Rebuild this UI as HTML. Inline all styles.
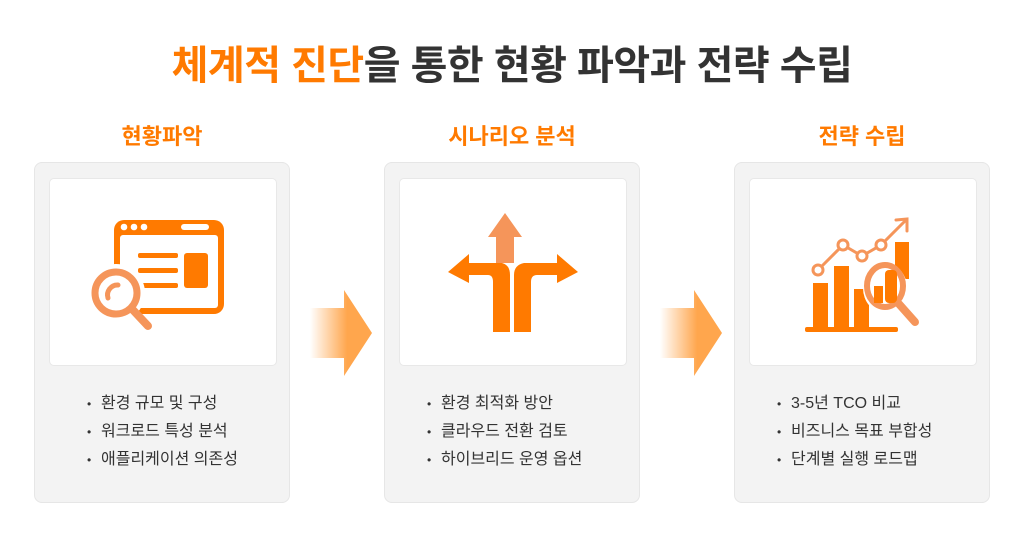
<!DOCTYPE html>
<html><head><meta charset="utf-8"><style>
body{margin:0;width:1024px;height:555px;background:#fff;position:relative;overflow:hidden;font-family:"Liberation Sans","Noto Sans CJK KR",sans-serif}
.t{position:absolute;top:33px;left:0;width:1024px;text-align:center;font-size:40px;font-weight:bold;color:#333;letter-spacing:-0.5px}
.t span{color:#ff7a00}
.h{position:absolute;top:119px;width:256px;text-align:center;font-size:22px;font-weight:bold;color:#ff7a00}
.c{position:absolute;top:162px;width:256px;height:341px;background:#f3f3f3;border:1px solid #e6e6e6;border-radius:8px;box-sizing:border-box}
.in{position:absolute;left:14px;top:15px;width:228px;height:188px;background:#fff;border:1px solid #e8e8e8;border-radius:5px;box-sizing:border-box}
ul{position:absolute;top:229px;margin:0;padding:0;list-style:none;font-size:16px;color:#333}
li{height:28px;line-height:24px}
li:before{content:"•";display:inline-block;width:14px;font-size:12px}
.ar{position:absolute;top:290px;width:62px;height:86px}
</style></head><body>
<div class="t"><span>체계적 진단</span>을 통한 현황 파악과 전략 수립</div>
<div class="h" style="left:34px">현황파악</div>
<div class="h" style="left:384px">시나리오 분석</div>
<div class="h" style="left:734px">전략 수립</div>

<div class="c" style="left:34px"><div class="in">
<svg width="228" height="188" viewBox="0 0 228 188">
<rect x="64" y="41" width="110" height="94" rx="10" fill="#ff7a00"/>
<rect x="70" y="56" width="98" height="73" rx="3" fill="#fff"/>
<circle cx="74" cy="48" r="3.3" fill="#fff"/><circle cx="84" cy="48" r="3.3" fill="#fff"/><circle cx="94" cy="48" r="3.3" fill="#fff"/>
<rect x="131" y="45" width="28" height="6" rx="3" fill="#fff"/>
<rect x="88" y="74" width="40" height="5" rx="2" fill="#ff7a00"/>
<rect x="88" y="89" width="40" height="5" rx="2" fill="#ff7a00"/>
<rect x="88" y="104" width="40" height="5" rx="2" fill="#ff7a00"/>
<rect x="134" y="74" width="24" height="35" rx="3" fill="#ff7a00"/>
<circle cx="66" cy="114" r="29" fill="#fff"/>
<circle cx="66" cy="114" r="21" fill="#fff" stroke="#f5955a" stroke-width="7"/>
<line x1="83" y1="131" x2="98" y2="147" stroke="#f5955a" stroke-width="8" stroke-linecap="round"/>
<path d="M58 119 a10 10 0 0 1 10 -13" fill="none" stroke="#f5955a" stroke-width="5" stroke-linecap="round"/>
</svg></div>
<ul style="left:52px"><li>환경 규모 및 구성</li><li>워크로드 특성 분석</li><li>애플리케이션 의존성</li></ul></div>

<div class="c" style="left:384px"><div class="in">
<svg width="228" height="188" viewBox="0 0 228 188">
<path d="M96 84 L96 58 L88 58 L105 34 L122 58 L114 58 L114 84 Z" fill="#f5955a"/>
<path d="M48 93 L69 75 L69 84 L102 84 Q110 86 110 96 L110 153 L93 153 L93 103 Q93 96 88 96 L69 96 L69 104 Z" fill="#ff7a00"/>
<path d="M178 93 L157 75 L157 84 L124 84 Q114 86 114 96 L114 153 L131 153 L131 103 Q131 96 137 96 L157 96 L157 104 Z" fill="#ff7a00"/>
<line x1="112" y1="92" x2="112" y2="154" stroke="#fff" stroke-width="3"/>
</svg></div>
<ul style="left:42px"><li>환경 최적화 방안</li><li>클라우드 전환 검토</li><li>하이브리드 운영 옵션</li></ul></div>

<div class="c" style="left:734px"><div class="in">
<svg width="228" height="188" viewBox="0 0 228 188">
<rect x="55" y="148" width="93" height="5" rx="2" fill="#ff7a00"/>
<rect x="63" y="104" width="15" height="44" fill="#ff7a00"/>
<rect x="84" y="87" width="15" height="61" fill="#ff7a00"/>
<rect x="104" y="110" width="15" height="38" fill="#ff7a00"/>
<rect x="145" y="63" width="14" height="37" fill="#ff7a00"/>
<polyline points="68,91 93,66 112,77 131,66 156,41" fill="none" stroke="#f5955a" stroke-width="3"/>
<polyline points="146,41 157,40 157,52" fill="none" stroke="#f5955a" stroke-width="3" stroke-linecap="round"/>
<circle cx="68" cy="91" r="5" fill="#fff" stroke="#f5955a" stroke-width="3"/>
<circle cx="93" cy="66" r="5" fill="#fff" stroke="#f5955a" stroke-width="3"/>
<circle cx="112" cy="77" r="5" fill="#fff" stroke="#f5955a" stroke-width="3"/>
<circle cx="131" cy="66" r="5" fill="#fff" stroke="#f5955a" stroke-width="3"/>
<ellipse cx="135" cy="109" rx="22" ry="25" fill="#fff"/>
<ellipse cx="135" cy="107" rx="18" ry="21" fill="#fff" stroke="#f5955a" stroke-width="6"/>
<rect x="124" y="107" width="9" height="17" fill="#ff7a00"/>
<rect x="135" y="91" width="12" height="33" rx="4" fill="#ff7a00"/>
<line x1="149" y1="125" x2="165" y2="143" stroke="#f5955a" stroke-width="8" stroke-linecap="round"/>
</svg></div>
<ul style="left:42px"><li>3-5년 TCO 비교</li><li>비즈니스 목표 부합성</li><li>단계별 실행 로드맵</li></ul></div>

<svg class="ar" style="left:310px" viewBox="0 0 62 86"><defs><linearGradient id="g" x1="0" x2="1"><stop offset="0" stop-color="#ffa64d" stop-opacity="0"/><stop offset="0.6" stop-color="#ffa64d"/><stop offset="1" stop-color="#ffa64d"/></linearGradient></defs>
<path d="M0 18 L34 18 L34 0 L62 43 L34 86 L34 68 L0 68 Z" fill="url(#g)"/></svg>
<svg class="ar" style="left:660px" viewBox="0 0 62 86"><path d="M0 18 L34 18 L34 0 L62 43 L34 86 L34 68 L0 68 Z" fill="url(#g)"/></svg>
</body></html>
